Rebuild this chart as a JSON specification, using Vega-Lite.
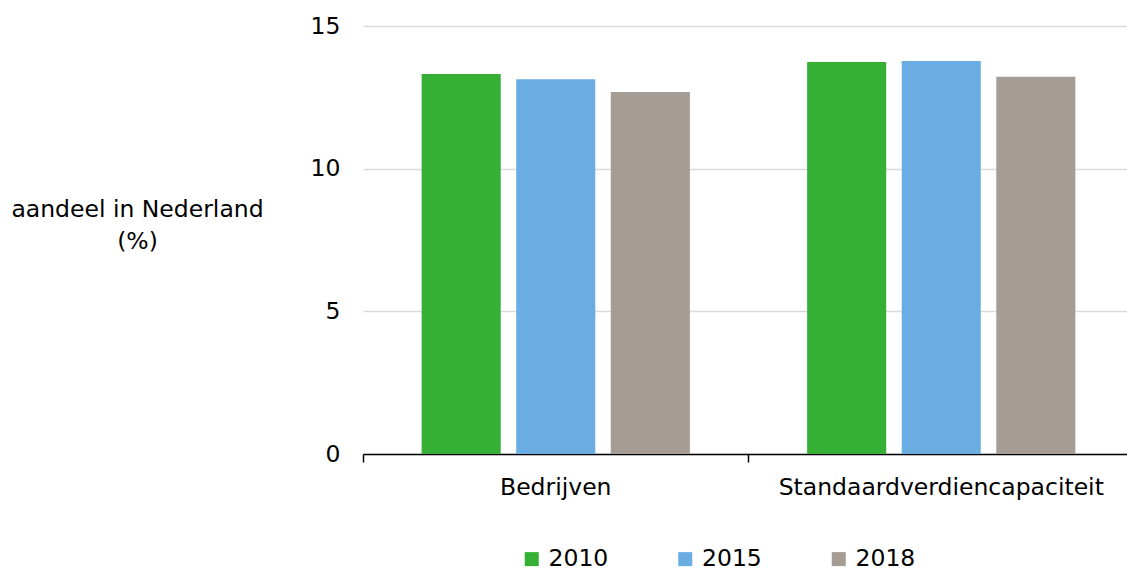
{
  "$schema": "https://vega.github.io/schema/vega-lite/v6.json",
  "autosize": "none",
  "width": 764,
  "height": 428,
  "padding": {"left": 363, "top": 26, "right": 0, "bottom": 115},
  "background": "white",
  "config": {
    "font": "DejaVu Sans",
    "view": {"stroke": null}
  },
  "data": {
    "values": [
      {"categorie": "Bedrijven", "jaar": "2010", "aandeel": 13.32},
      {"categorie": "Bedrijven", "jaar": "2015", "aandeel": 13.13},
      {"categorie": "Bedrijven", "jaar": "2018", "aandeel": 12.69},
      {"categorie": "Standaardverdiencapaciteit", "jaar": "2010", "aandeel": 13.74},
      {"categorie": "Standaardverdiencapaciteit", "jaar": "2015", "aandeel": 13.77},
      {"categorie": "Standaardverdiencapaciteit", "jaar": "2018", "aandeel": 13.22}
    ]
  },
  "mark": {"type": "bar"},
  "encoding": {
    "x": {
      "field": "categorie",
      "type": "nominal",
      "scale": {"paddingInner": 0, "paddingOuter": 0, "range": [0, 771]},
      "axis": {
        "title": null,
        "labelAngle": 0,
        "labelFontSize": 23.5,
        "labelColor": "#000000",
        "labelPadding": 13,
        "labelLimit": 0,
        "tickSize": 8,
        "tickColor": "#000000",
        "domainColor": "#000000",
        "domainWidth": 1.5,
        "tickWidth": 1.5,
        "bandPosition": 0,
        "grid": false
      }
    },
    "xOffset": {
      "field": "jaar",
      "type": "nominal",
      "scale": {"paddingInner": 0.164, "paddingOuter": 0.62}
    },
    "y": {
      "field": "aandeel",
      "type": "quantitative",
      "scale": {"domain": [0, 15], "nice": false},
      "axis": {
        "values": [0, 5, 10, 15],
        "title": ["aandeel in Nederland", "(%)"],
        "titleAngle": 0,
        "titleAlign": "center",
        "titleBaseline": "middle",
        "titleX": -226,
        "titleY": 183,
        "titleFontSize": 23.5,
        "titleFontWeight": "normal",
        "titleColor": "#000000",
        "titleLineHeight": 32,
        "labelFontSize": 23.5,
        "labelColor": "#000000",
        "labelPadding": 23,
        "ticks": false,
        "tickSize": 0,
        "domain": false,
        "grid": true,
        "gridColor": "#d9d9d9",
        "gridWidth": 1.5
      }
    },
    "color": {
      "field": "jaar",
      "type": "nominal",
      "scale": {"domain": ["2010", "2015", "2018"], "range": ["#35b035", "#6aade2", "#a59c96"]},
      "legend": {
        "title": null,
        "orient": "none",
        "direction": "horizontal",
        "legendX": 157,
        "legendY": 521,
        "padding": 0,
        "symbolType": "square",
        "symbolSize": 196,
        "symbolStrokeWidth": 0,
        "symbolOpacity": 1,
        "labelFontSize": 23.5,
        "labelLimit": 0,
        "labelColor": "#000000",
        "labelOffset": 5,
        "columnPadding": 64.5
      }
    }
  }
}
